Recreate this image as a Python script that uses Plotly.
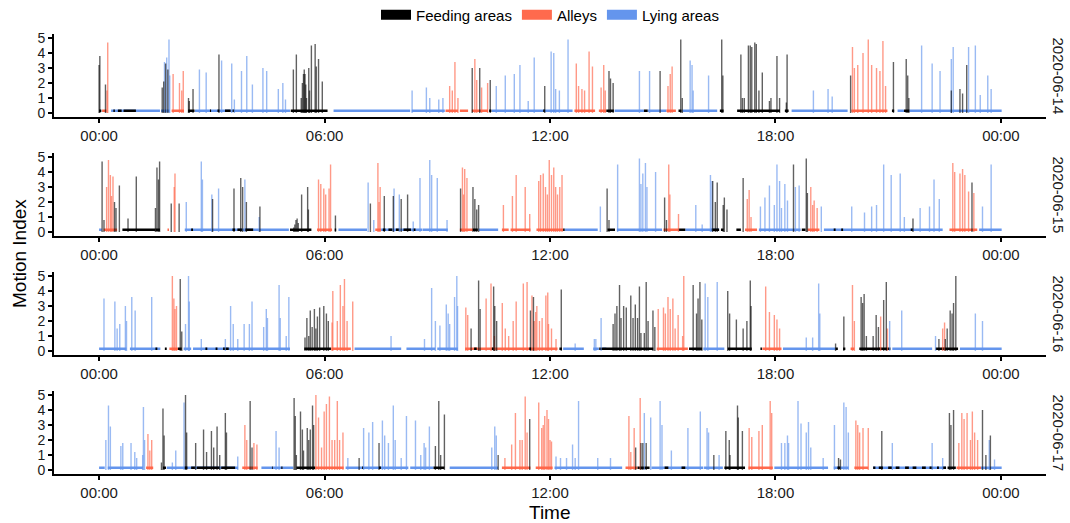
import plotly.graph_objects as go
from plotly.subplots import make_subplots

# ---------------- data (hours of day, motion index, location) ----------------
DAYS = ["2020-06-14", "2020-06-15", "2020-06-16", "2020-06-17"]
LOC_NAMES = {"F": "Feeding areas", "A": "Alleys", "L": "Lying areas"}
TICK_HOURS = [0, 6, 12, 18, 24]
TICK_LABELS = ["00:00", "06:00", "12:00", "18:00", "00:00"]
Y_TICKS = [0, 1, 2, 3, 4, 5]
BASE_LEVEL = 0.15  # low resting motion index

# location segments: (start hour, end hour, location)
seg_14 = [(0.0, 0.06, "F"), (0.08, 0.2, "A"), (0.32, 1.62, "L"), (0.38, 0.42, "F"), (0.5, 0.6, "F"),
          (0.65, 0.98, "F"), (1.65, 1.88, "L"), (1.93, 2.26, "A"), (2.37, 2.54, "F"), (2.55, 5.08, "L"),
          (2.95, 2.98, "F"), (3.15, 3.2, "F"), (3.35, 3.5, "F"), (3.55, 3.6, "F"), (5.1, 6.08, "F"),
          (6.24, 8.28, "L"), (8.32, 9.2, "L"), (9.22, 9.55, "A"), (9.6, 9.82, "A"), (9.92, 10.35, "A"),
          (10.38, 10.44, "F"), (10.45, 12.6, "L"), (11.82, 11.86, "F"), (12.65, 13.2, "A"),
          (13.3, 13.5, "A"), (13.5, 13.7, "F"), (13.72, 14.5, "L"), (14.5, 14.6, "F"), (14.6, 15.1, "L"),
          (15.1, 15.35, "A"), (15.42, 15.5, "F"), (15.52, 16.45, "L"), (16.52, 16.62, "F"),
          (16.98, 18.12, "F"), (18.25, 18.35, "F"), (18.43, 19.92, "L"), (20.02, 20.98, "A"),
          (21.1, 21.16, "F"), (21.25, 21.42, "L"), (21.42, 21.56, "F"), (21.56, 24.02, "L")]
spk_14 = [(0.0, 3.2, "F"), (0.02, 3.8, "F"), (0.17, 1.9, "F"), (0.21, 1.5, "A"), (0.23, 4.7, "A"),
          (1.68, 1.7, "F"), (1.72, 2.1, "F"), (1.74, 3.4, "L"), (1.77, 3.3, "F"), (1.8, 3.7, "L"),
          (1.83, 2.9, "F"), (1.86, 4.9, "L"), (1.88, 2.5, "L"), (1.97, 2.6, "A"), (2.14, 2.0, "A"),
          (2.2, 1.5, "A"), (2.24, 2.8, "A"), (2.38, 1.0, "F"), (2.4, 0.8, "F"), (2.5, 1.6, "F"),
          (2.67, 2.9, "L"), (2.85, 2.7, "L"), (3.19, 3.9, "F"), (3.26, 3.5, "L"), (3.53, 3.3, "L"),
          (3.6, 0.9, "L"), (3.79, 2.8, "L"), (3.93, 3.8, "L"), (4.08, 1.9, "L"), (4.36, 3.0, "L"),
          (4.46, 2.8, "L"), (4.77, 1.6, "L"), (4.89, 2.0, "L"), (4.96, 0.9, "L"), (5.17, 2.9, "F"),
          (5.25, 3.9, "F"), (5.38, 1.0, "F"), (5.41, 2.0, "F"), (5.44, 2.6, "F"), (5.46, 2.9, "F"),
          (5.48, 2.6, "F"), (5.5, 1.9, "F"), (5.52, 1.0, "F"), (5.58, 3.0, "F"), (5.6, 1.5, "F"),
          (5.65, 4.5, "F"), (5.75, 4.6, "F"), (5.78, 3.1, "F"), (5.84, 3.6, "F"), (5.94, 2.1, "F"),
          (8.33, 1.5, "L"), (8.71, 1.7, "L"), (8.8, 1.0, "L"), (9.04, 0.9, "L"), (9.15, 1.0, "L"),
          (9.33, 1.8, "A"), (9.4, 1.5, "A"), (9.47, 3.4, "A"), (9.55, 1.0, "A"), (9.93, 3.0, "F"),
          (10.0, 3.6, "A"), (10.05, 2.2, "A"), (10.13, 3.0, "F"), (10.18, 1.7, "A"), (10.34, 2.0, "A"),
          (10.41, 2.2, "F"), (10.57, 1.8, "L"), (10.81, 2.5, "L"), (11.05, 2.6, "L"), (11.2, 3.2, "L"),
          (11.42, 0.8, "L"), (11.58, 3.7, "L"), (11.86, 1.8, "F"), (12.03, 4.1, "L"), (12.1, 4.0, "L"),
          (12.15, 1.6, "L"), (12.25, 1.5, "L"), (12.48, 4.9, "L"), (12.7, 3.3, "A"), (12.76, 1.8, "A"),
          (12.85, 1.6, "A"), (12.92, 1.5, "A"), (13.04, 4.1, "A"), (13.13, 3.1, "A"), (13.36, 1.7, "A"),
          (13.43, 3.2, "A"), (13.47, 1.5, "A"), (13.57, 2.8, "F"), (13.61, 2.3, "F"), (13.68, 2.0, "F"),
          (14.38, 2.8, "L"), (14.65, 2.8, "L"), (14.93, 2.8, "F"), (15.14, 1.8, "A"), (15.2, 2.6, "A"),
          (15.25, 3.1, "A"), (15.48, 4.9, "F"), (15.52, 1.0, "F"), (15.73, 3.5, "L"), (15.78, 3.2, "L"),
          (15.81, 1.5, "L"), (16.22, 2.5, "L"), (16.57, 4.9, "F"), (16.6, 2.5, "F"), (17.08, 3.9, "F"),
          (17.12, 1.0, "F"), (17.17, 1.0, "F"), (17.28, 4.5, "F"), (17.33, 4.5, "F"), (17.37, 4.4, "F"),
          (17.45, 4.7, "F"), (17.49, 4.6, "F"), (17.56, 1.5, "F"), (17.65, 2.7, "F"), (17.84, 0.8, "F"),
          (17.88, 1.0, "F"), (18.04, 3.8, "F"), (18.11, 1.0, "F"), (18.29, 0.7, "F"), (18.31, 3.9, "F"),
          (19.01, 1.5, "L"), (19.4, 1.6, "L"), (19.51, 1.1, "L"), (20.0, 2.5, "F"), (20.05, 4.4, "A"),
          (20.1, 3.0, "A"), (20.19, 3.2, "A"), (20.33, 4.0, "A"), (20.47, 4.9, "A"), (20.56, 3.2, "A"),
          (20.69, 3.0, "A"), (20.78, 2.8, "A"), (20.86, 4.8, "A"), (20.93, 1.8, "A"), (21.14, 3.4, "F"),
          (21.48, 3.6, "F"), (21.52, 2.5, "F"), (21.55, 1.0, "F"), (21.89, 4.5, "L"), (22.17, 3.3, "L"),
          (22.38, 2.8, "L"), (22.68, 3.6, "L"), (22.73, 4.4, "L"), (22.68, 1.5, "F"), (22.91, 1.6, "F"),
          (22.98, 1.3, "F"), (23.09, 3.2, "F"), (23.14, 4.4, "L"), (23.32, 4.5, "L"), (23.45, 1.2, "L"),
          (23.65, 2.5, "L"), (23.74, 1.6, "L")]

seg_15 = [(0.0, 0.07, "L"), (0.12, 0.48, "A"), (0.62, 1.5, "F"), (1.5, 1.62, "F"), (1.82, 1.86, "A"),
          (2.28, 5.05, "L"), (2.45, 2.5, "F"), (3.55, 3.62, "F"), (3.68, 3.8, "F"), (3.88, 4.1, "F"),
          (5.08, 5.65, "F"), (5.8, 6.2, "A"), (6.27, 6.31, "F"), (6.37, 7.13, "L"), (7.35, 7.5, "A"),
          (7.5, 8.6, "L"), (7.55, 7.62, "F"), (7.7, 7.8, "F"), (7.9, 8.0, "F"), (8.1, 8.3, "F"),
          (8.35, 8.42, "F"), (8.61, 9.28, "L"), (9.6, 9.95, "A"), (9.95, 10.08, "F"), (10.1, 10.62, "L"),
          (10.72, 10.9, "A"), (10.95, 11.48, "A"), (11.64, 12.35, "A"), (12.35, 12.39, "F"),
          (12.39, 13.27, "L"), (13.53, 13.73, "F"), (13.78, 14.98, "L"), (15.02, 15.42, "A"),
          (15.42, 15.6, "F"), (15.6, 16.5, "L"), (16.3, 16.5, "F"), (16.55, 16.62, "F"),
          (16.96, 17.08, "F"), (17.19, 17.51, "A"), (17.56, 18.67, "L"), (18.7, 18.8, "F"),
          (18.85, 19.17, "A"), (19.29, 22.45, "L"), (19.55, 19.6, "F"), (19.75, 19.8, "F"),
          (21.6, 21.65, "F"), (22.63, 23.37, "A"), (23.42, 24.02, "L")]
spk_15 = [(0.08, 4.7, "F"), (0.13, 0.8, "F"), (0.2, 3.0, "A"), (0.25, 4.8, "A"), (0.3, 3.8, "A"),
          (0.33, 2.4, "A"), (0.37, 3.7, "A"), (0.41, 2.0, "F"), (0.45, 1.6, "F"), (0.54, 3.1, "F"),
          (0.77, 0.9, "F"), (0.99, 3.7, "F"), (1.5, 1.6, "F"), (1.54, 4.3, "F"), (1.58, 3.5, "F"),
          (1.61, 4.7, "F"), (1.92, 1.9, "F"), (2.0, 3.0, "A"), (2.02, 3.9, "A"), (2.13, 1.9, "F"),
          (2.32, 2.0, "L"), (2.72, 4.7, "L"), (2.75, 3.5, "L"), (3.0, 2.5, "L"), (3.02, 2.2, "F"),
          (3.18, 2.9, "L"), (3.59, 2.9, "F"), (3.77, 3.6, "F"), (3.82, 3.0, "F"), (3.88, 3.5, "L"),
          (3.92, 2.0, "F"), (4.26, 1.0, "L"), (4.28, 1.7, "F"), (5.18, 0.3, "F"), (5.21, 0.5, "F"),
          (5.24, 0.8, "F"), (5.27, 0.9, "F"), (5.3, 0.6, "F"), (5.39, 2.5, "F"), (5.55, 3.0, "F"),
          (5.57, 1.5, "F"), (5.84, 3.5, "A"), (5.9, 3.2, "A"), (5.98, 2.9, "A"), (6.03, 2.5, "A"),
          (6.12, 2.9, "A"), (6.16, 4.5, "A"), (6.29, 1.1, "F"), (7.16, 3.3, "L"), (7.22, 1.9, "F"),
          (7.31, 0.8, "L"), (7.42, 4.6, "A"), (7.45, 2.0, "A"), (7.48, 3.0, "A"), (7.59, 2.4, "F"),
          (7.83, 2.4, "F"), (7.85, 2.9, "L"), (7.99, 2.5, "L"), (8.04, 2.2, "F"), (8.21, 2.5, "F"),
          (8.36, 0.7, "L"), (8.54, 3.6, "L"), (8.8, 4.8, "L"), (8.85, 3.8, "L"), (9.0, 3.6, "L"),
          (9.26, 0.8, "L"), (9.62, 2.9, "F"), (9.67, 4.3, "A"), (9.7, 2.5, "A"), (9.73, 4.2, "A"),
          (9.79, 3.6, "A"), (9.95, 3.0, "F"), (10.0, 2.2, "F"), (10.05, 1.5, "F"), (10.1, 1.8, "F"),
          (10.76, 1.8, "A"), (11.0, 2.4, "A"), (11.1, 3.8, "A"), (11.34, 3.0, "A"), (11.46, 1.2, "A"),
          (11.7, 3.4, "A"), (11.75, 3.8, "A"), (11.82, 3.9, "A"), (11.88, 3.0, "A"), (11.93, 2.5, "A"),
          (11.98, 4.8, "A"), (12.04, 3.8, "A"), (12.1, 4.3, "A"), (12.15, 3.0, "A"), (12.2, 2.5, "A"),
          (12.26, 3.0, "A"), (12.32, 3.8, "A"), (13.34, 1.7, "L"), (13.52, 2.9, "F"), (13.57, 0.8, "F"),
          (13.8, 4.5, "L"), (14.38, 4.9, "L"), (14.42, 3.2, "L"), (14.47, 3.9, "L"), (14.54, 4.6, "L"),
          (14.58, 3.0, "L"), (14.81, 4.0, "L"), (15.05, 2.3, "F"), (15.1, 0.8, "F"), (15.16, 4.5, "A"),
          (15.19, 2.5, "A"), (15.42, 1.2, "A"), (15.88, 1.8, "L"), (16.05, 0.5, "L"), (16.27, 3.8, "L"),
          (16.31, 3.4, "L"), (16.33, 3.4, "F"), (16.4, 2.0, "F"), (16.45, 3.3, "F"), (16.61, 1.8, "F"),
          (16.64, 2.3, "F"), (16.71, 1.5, "F"), (17.14, 3.6, "F"), (17.25, 2.2, "A"), (17.3, 2.8, "A"),
          (17.35, 1.0, "A"), (17.6, 1.7, "L"), (17.72, 2.3, "L"), (17.84, 3.1, "L"), (17.97, 1.8, "L"),
          (18.04, 4.5, "L"), (18.11, 3.4, "L"), (18.16, 1.6, "L"), (18.25, 3.2, "L"), (18.32, 2.1, "L"),
          (18.48, 4.5, "F"), (18.53, 3.0, "L"), (18.63, 3.1, "L"), (18.82, 4.9, "F"), (18.85, 2.6, "F"),
          (18.94, 3.0, "A"), (18.99, 1.8, "A"), (19.03, 2.1, "A"), (19.11, 1.6, "A"), (19.22, 1.7, "L"),
          (20.03, 1.7, "L"), (20.37, 1.3, "L"), (20.56, 1.7, "L"), (20.69, 1.8, "L"), (20.88, 4.5, "L"),
          (21.08, 3.8, "L"), (21.32, 3.9, "L"), (21.43, 1.0, "L"), (21.66, 0.9, "F"), (21.85, 1.6, "L"),
          (22.1, 1.7, "L"), (22.22, 3.5, "L"), (22.36, 2.2, "L"), (22.72, 4.6, "A"), (22.77, 4.0, "A"),
          (22.91, 3.9, "A"), (22.98, 4.2, "A"), (23.04, 3.8, "A"), (23.14, 2.7, "A"), (23.23, 3.3, "F"),
          (23.28, 2.6, "A"), (23.51, 1.7, "L"), (23.74, 4.5, "L")]

seg_16 = [(0.0, 0.73, "L"), (0.82, 1.63, "L"), (1.5, 1.55, "F"), (1.75, 1.8, "F"), (1.87, 2.1, "A"),
          (2.1, 2.2, "F"), (2.25, 2.45, "L"), (2.5, 5.08, "L"), (2.83, 2.88, "F"), (3.1, 3.15, "F"),
          (3.3, 3.45, "F"), (5.46, 6.17, "F"), (6.18, 6.7, "A"), (6.8, 8.04, "L"), (8.18, 8.95, "L"),
          (9.0, 9.55, "L"), (9.74, 12.2, "A"), (9.98, 10.05, "F"), (10.45, 10.5, "F"),
          (11.45, 11.5, "F"), (12.25, 12.32, "F"), (12.35, 12.9, "L"), (13.15, 13.3, "L"),
          (13.31, 14.75, "F"), (13.4, 13.5, "L"), (14.84, 15.67, "A"), (15.7, 16.05, "F"),
          (16.08, 16.64, "L"), (16.73, 17.37, "F"), (17.6, 17.64, "F"), (17.65, 18.16, "A"),
          (18.2, 19.6, "L"), (19.6, 19.66, "F"), (19.8, 19.86, "F"), (20.0, 20.1, "A"),
          (20.23, 21.06, "F"), (20.75, 20.82, "A"), (21.11, 22.17, "L"), (22.26, 22.86, "F"),
          (22.42, 22.5, "A"), (22.91, 24.02, "L")]
spk_16 = [(0.13, 3.5, "L"), (0.42, 3.3, "L"), (0.48, 1.5, "L"), (0.55, 1.8, "L"), (0.7, 3.0, "L"),
          (0.73, 2.0, "L"), (0.87, 3.6, "L"), (0.96, 2.7, "L"), (1.4, 3.6, "L"), (1.95, 5.0, "A"),
          (1.99, 3.5, "A"), (2.02, 2.8, "A"), (2.06, 3.0, "A"), (2.16, 4.8, "F"), (2.2, 1.3, "F"),
          (2.3, 1.8, "L"), (2.38, 5.0, "L"), (2.4, 3.3, "L"), (2.72, 0.8, "L"), (3.36, 0.8, "L"),
          (3.5, 3.0, "L"), (3.57, 1.8, "L"), (3.69, 0.8, "L"), (3.86, 1.8, "L"), (4.0, 1.8, "L"),
          (4.07, 3.3, "L"), (4.38, 1.6, "L"), (4.45, 2.8, "L"), (4.48, 2.2, "L"), (4.79, 4.4, "L"),
          (4.82, 2.2, "L"), (4.98, 1.0, "L"), (5.05, 3.6, "L"), (5.48, 0.9, "F"), (5.53, 2.2, "F"),
          (5.58, 1.0, "F"), (5.62, 2.7, "F"), (5.67, 1.6, "F"), (5.73, 2.8, "F"), (5.77, 1.5, "F"),
          (5.81, 2.3, "F"), (5.87, 2.9, "F"), (5.98, 3.0, "F"), (6.05, 2.5, "F"), (6.1, 2.0, "F"),
          (6.2, 1.9, "A"), (6.22, 4.0, "A"), (6.34, 2.0, "A"), (6.42, 4.4, "A"), (6.49, 3.0, "A"),
          (6.53, 4.8, "A"), (6.6, 2.0, "A"), (6.75, 3.3, "A"), (7.77, 1.0, "L"), (8.66, 0.8, "L"),
          (8.85, 4.2, "L"), (8.95, 2.0, "L"), (9.07, 1.7, "L"), (9.24, 3.1, "L"), (9.29, 2.5, "L"),
          (9.33, 1.8, "L"), (9.46, 3.6, "L"), (9.52, 5.0, "L"), (9.54, 3.0, "L"), (9.76, 2.9, "A"),
          (9.81, 2.4, "A"), (9.9, 1.5, "F"), (10.1, 4.7, "F"), (10.14, 2.8, "F"), (10.3, 3.5, "A"),
          (10.43, 4.5, "A"), (10.5, 4.3, "F"), (10.52, 1.0, "A"), (10.53, 3.0, "F"), (10.58, 2.0, "F"),
          (10.73, 3.2, "A"), (10.81, 1.5, "A"), (10.9, 1.0, "A"), (11.02, 2.0, "A"), (11.1, 3.3, "A"),
          (11.29, 4.5, "A"), (11.39, 4.6, "A"), (11.48, 2.7, "F"), (11.52, 3.7, "A"), (11.56, 3.6, "F"),
          (11.58, 2.0, "A"), (11.62, 2.6, "A"), (11.65, 3.0, "A"), (11.72, 2.0, "A"), (11.79, 2.2, "A"),
          (11.89, 3.7, "A"), (11.94, 3.9, "A"), (11.96, 1.8, "A"), (12.04, 1.5, "A"), (12.16, 0.8, "A"),
          (12.3, 4.1, "F"), (12.67, 0.5, "L"), (13.18, 0.8, "L"), (13.22, 0.8, "L"), (13.36, 2.2, "L"),
          (13.68, 1.8, "F"), (13.73, 2.5, "F"), (13.78, 3.0, "F"), (13.85, 4.4, "F"), (13.89, 2.2, "F"),
          (13.96, 3.0, "F"), (14.03, 2.9, "F"), (14.15, 3.7, "F"), (14.21, 2.2, "F"), (14.27, 3.1, "F"),
          (14.33, 2.2, "F"), (14.38, 4.3, "F"), (14.42, 1.2, "F"), (14.51, 1.2, "F"), (14.56, 4.6, "F"),
          (14.61, 2.0, "F"), (14.74, 2.7, "F"), (14.79, 1.6, "F"), (14.88, 2.8, "A"), (15.02, 2.9, "A"),
          (15.07, 2.5, "A"), (15.14, 3.6, "A"), (15.2, 2.8, "A"), (15.27, 3.5, "A"), (15.33, 1.5, "A"),
          (15.41, 2.4, "A"), (15.53, 1.0, "A"), (15.56, 5.0, "A"), (15.81, 4.4, "F"), (15.9, 2.5, "F"),
          (15.94, 3.5, "F"), (15.99, 4.6, "F"), (16.04, 2.1, "F"), (16.13, 4.5, "L"), (16.2, 3.6, "L"),
          (16.45, 4.6, "L"), (16.73, 4.0, "F"), (16.78, 2.5, "F"), (16.96, 2.1, "F"), (17.14, 1.5, "F"),
          (17.24, 2.0, "F"), (17.33, 4.7, "F"), (17.35, 3.0, "F"), (17.74, 4.3, "A"), (17.84, 2.6, "A"),
          (17.97, 2.4, "A"), (18.04, 2.1, "A"), (18.11, 1.5, "A"), (18.82, 0.9, "L"), (18.99, 0.9, "L"),
          (19.15, 4.5, "L"), (19.18, 2.5, "L"), (19.6, 0.5, "F"), (19.82, 2.3, "F"), (20.05, 4.4, "A"),
          (20.1, 2.0, "A"), (20.28, 3.6, "F"), (20.32, 3.2, "F"), (20.36, 3.8, "F"), (20.42, 1.0, "F"),
          (20.6, 1.0, "F"), (20.68, 2.4, "F"), (20.74, 1.6, "F"), (20.8, 2.3, "A"), (20.88, 3.4, "F"),
          (20.95, 4.6, "F"), (20.98, 1.5, "A"), (21.04, 2.0, "L"), (21.36, 2.7, "L"), (22.26, 1.0, "L"),
          (22.35, 0.8, "F"), (22.45, 1.5, "A"), (22.5, 1.9, "A"), (22.52, 0.8, "F"), (22.57, 1.5, "F"),
          (22.65, 2.7, "F"), (22.7, 2.5, "F"), (22.74, 3.2, "F"), (22.8, 5.0, "F"), (23.32, 2.5, "L"),
          (23.51, 2.0, "L")]

seg_17 = [(0.0, 0.15, "L"), (0.23, 1.17, "L"), (1.25, 1.44, "A"), (1.7, 1.78, "F"), (1.8, 3.7, "L"),
          (2.28, 2.35, "F"), (2.45, 2.55, "F"), (2.6, 3.2, "F"), (3.25, 3.62, "F"), (3.81, 4.22, "A"),
          (4.32, 5.17, "L"), (4.6, 4.62, "F"), (4.85, 4.88, "F"), (5.25, 5.75, "F"), (5.75, 6.51, "A"),
          (6.56, 8.23, "L"), (7.0, 7.03, "F"), (7.45, 7.5, "F"), (8.28, 8.9, "L"), (8.9, 9.19, "F"),
          (9.33, 10.43, "L"), (10.43, 10.62, "L"), (10.72, 11.48, "A"), (11.62, 12.07, "A"),
          (12.12, 13.92, "L"), (14.01, 14.33, "A"), (14.33, 14.65, "F"), (14.7, 16.08, "L"),
          (15.05, 15.15, "F"), (15.5, 15.6, "F"), (16.1, 16.6, "L"), (16.64, 17.19, "F"),
          (17.28, 17.93, "A"), (17.97, 19.4, "L"), (19.55, 19.95, "L"), (19.65, 19.72, "F"),
          (20.1, 20.47, "A"), (20.6, 22.54, "L"), (20.6, 20.66, "F"), (20.75, 20.86, "F"),
          (21.0, 21.1, "F"), (21.2, 21.3, "F"), (21.45, 21.55, "F"), (21.65, 21.75, "F"),
          (21.9, 22.0, "F"), (22.1, 22.18, "F"), (22.3, 22.35, "F"), (22.45, 22.54, "F"),
          (22.58, 22.8, "F"), (22.82, 23.47, "A"), (23.47, 24.02, "L")]
spk_17 = [(0.18, 2.0, "L"), (0.25, 4.3, "L"), (0.3, 2.9, "L"), (0.58, 1.6, "L"), (0.63, 1.8, "L"),
          (0.85, 1.8, "L"), (0.95, 1.2, "L"), (1.0, 0.8, "L"), (1.16, 1.0, "L"), (1.18, 4.2, "L"),
          (1.21, 2.0, "L"), (1.3, 2.4, "A"), (1.35, 1.3, "A"), (1.4, 2.0, "A"), (1.66, 0.5, "F"),
          (1.7, 4.1, "F"), (1.73, 2.3, "F"), (1.95, 0.5, "L"), (2.04, 1.3, "L"), (2.26, 4.5, "L"),
          (2.3, 5.0, "F"), (2.33, 2.5, "F"), (2.57, 1.8, "F"), (2.78, 2.7, "F"), (2.86, 1.2, "F"),
          (2.99, 2.6, "F"), (3.05, 1.5, "F"), (3.14, 2.9, "F"), (3.21, 1.0, "F"), (3.36, 3.8, "F"),
          (3.39, 2.5, "F"), (3.69, 0.9, "L"), (3.88, 3.0, "A"), (3.93, 2.0, "A"), (4.02, 4.6, "F"),
          (4.07, 1.5, "F"), (4.12, 1.8, "A"), (4.2, 1.7, "A"), (4.71, 2.6, "L"), (4.79, 1.5, "L"),
          (5.19, 4.8, "F"), (5.22, 3.6, "F"), (5.25, 1.0, "F"), (5.36, 3.9, "F"), (5.41, 2.7, "F"),
          (5.44, 1.3, "F"), (5.54, 2.8, "F"), (5.58, 2.0, "F"), (5.62, 2.7, "F"), (5.68, 4.3, "F"),
          (5.71, 3.0, "F"), (5.77, 5.0, "A"), (5.84, 3.5, "A"), (5.92, 1.5, "A"), (5.99, 3.9, "A"),
          (6.05, 4.4, "A"), (6.13, 4.9, "A"), (6.2, 2.0, "A"), (6.27, 2.0, "A"), (6.34, 4.6, "A"),
          (6.4, 2.0, "A"), (6.49, 2.5, "A"), (6.62, 0.8, "L"), (6.92, 0.8, "F"), (7.04, 2.8, "L"),
          (7.18, 2.5, "L"), (7.28, 3.2, "L"), (7.45, 1.8, "F"), (7.54, 3.3, "L"), (7.6, 2.3, "L"),
          (7.7, 1.8, "L"), (7.83, 4.3, "L"), (7.88, 2.0, "L"), (8.04, 0.8, "L"), (8.18, 3.6, "L"),
          (8.42, 3.3, "L"), (8.56, 1.0, "L"), (8.65, 1.8, "L"), (8.69, 1.5, "L"), (8.79, 2.9, "L"),
          (8.95, 1.6, "F"), (9.04, 4.6, "F"), (9.09, 1.0, "F"), (9.19, 3.7, "F"), (10.45, 1.5, "L"),
          (10.53, 2.9, "L"), (10.57, 2.3, "L"), (10.62, 1.0, "F"), (10.8, 0.8, "A"), (10.98, 1.7, "A"),
          (11.08, 3.8, "A"), (11.2, 2.0, "A"), (11.26, 2.0, "A"), (11.34, 4.9, "A"), (11.39, 2.5, "A"),
          (11.46, 3.4, "F"), (11.7, 4.5, "A"), (11.78, 2.8, "A"), (11.82, 3.0, "A"), (11.86, 3.6, "A"),
          (11.92, 4.0, "A"), (11.96, 3.4, "A"), (12.0, 2.0, "A"), (12.04, 1.9, "A"), (12.16, 0.9, "L"),
          (12.28, 0.8, "L"), (12.44, 0.8, "L"), (12.6, 1.7, "L"), (12.67, 0.8, "L"), (12.76, 4.6, "L"),
          (13.27, 0.8, "L"), (13.61, 0.8, "L"), (14.1, 3.6, "A"), (14.15, 1.2, "A"), (14.24, 2.8, "A"),
          (14.28, 1.5, "F"), (14.4, 4.8, "A"), (14.42, 1.8, "F"), (14.47, 1.8, "F"), (14.51, 3.8, "L"),
          (14.56, 1.8, "F"), (14.68, 3.5, "L"), (14.93, 4.6, "L"), (14.98, 3.0, "L"), (15.23, 1.3, "L"),
          (15.67, 2.8, "L"), (16.0, 3.9, "L"), (16.18, 2.8, "L"), (16.22, 2.5, "L"), (16.36, 1.0, "F"),
          (16.5, 1.0, "L"), (16.68, 2.6, "F"), (16.77, 2.0, "F"), (16.79, 1.0, "F"), (16.99, 4.3, "F"),
          (17.01, 3.5, "F"), (17.12, 2.6, "F"), (17.3, 2.8, "A"), (17.37, 2.2, "A"), (17.56, 2.6, "A"),
          (17.65, 3.0, "A"), (17.86, 4.6, "A"), (17.9, 3.8, "A"), (18.16, 1.8, "L"), (18.25, 1.8, "L"),
          (18.32, 2.3, "L"), (18.35, 1.8, "L"), (18.6, 4.6, "L"), (18.68, 3.1, "L"), (18.82, 2.5, "L"),
          (18.88, 3.2, "L"), (18.94, 1.5, "L"), (19.27, 0.8, "L"), (19.57, 3.0, "L"), (19.68, 0.8, "F"),
          (19.73, 0.7, "F"), (19.82, 4.5, "L"), (19.88, 4.2, "L"), (19.94, 2.5, "L"), (20.14, 3.3, "A"),
          (20.19, 3.0, "A"), (20.24, 2.5, "A"), (20.33, 2.8, "A"), (20.47, 2.8, "A"), (20.83, 2.6, "F"),
          (21.11, 1.8, "L"), (22.17, 1.8, "L"), (22.45, 0.8, "L"), (22.63, 3.8, "F"), (22.67, 3.0, "F"),
          (22.74, 4.0, "F"), (22.88, 1.8, "A"), (22.96, 3.8, "A"), (23.02, 3.4, "A"), (23.1, 3.8, "A"),
          (23.19, 2.0, "A"), (23.24, 3.9, "A"), (23.3, 2.5, "A"), (23.38, 2.0, "A"), (23.51, 4.0, "F"),
          (23.6, 1.0, "F"), (23.69, 2.0, "L"), (23.72, 2.3, "F"), (23.83, 0.7, "L")]

SEGMENTS = [seg_14, seg_15, seg_16, seg_17]
SPIKES = [spk_14, spk_15, spk_16, spk_17]

# ---------------- styling ----------------
SOLID = {"F": "#000000", "A": "#FF6A4D", "L": "#6495ED"}
SPIKE = {"F": "rgba(0,0,0,0.62)", "A": "rgba(255,99,71,0.65)", "L": "rgba(100,149,237,0.65)"}
DRAW_ORDER = ["L", "A", "F"]
FONT = "Liberation Sans, Arial, Helvetica, sans-serif"

W, H = 1070, 523
M_L, M_R, M_T, M_B = 54, 24, 34, 49
PLOT_W = W - M_L - M_R
PLOT_H = H - M_T - M_B
PANEL_H = 82.5
PANEL_STEP = 119

fig = make_subplots(rows=4, cols=1)

# legend entries
for loc in ["F", "A", "L"]:
    fig.add_trace(go.Scatter(x=[None], y=[None], mode="lines", name=LOC_NAMES[loc],
                             line=dict(color=SOLID[loc], width=12), legendgroup=loc,
                             showlegend=True, hoverinfo="skip"), row=1, col=1)

for r, (segs, spks) in enumerate(zip(SEGMENTS, SPIKES), start=1):
    for loc in DRAW_ORDER:
        xs, ys = [], []
        for s, e, l in segs:
            if l == loc:
                xs += [s, e, None]
                ys += [BASE_LEVEL, BASE_LEVEL, None]
        if xs:
            fig.add_trace(go.Scatter(x=xs, y=ys, mode="lines", line=dict(color=SOLID[loc], width=2.6),
                                     legendgroup=loc, showlegend=False, hoverinfo="skip"), row=r, col=1)
    for loc in DRAW_ORDER:
        xs, ys = [], []
        for t, h, l in spks:
            if l == loc:
                xs += [t, t, None]
                ys += [0, h, None]
        if xs:
            fig.add_trace(go.Scatter(x=xs, y=ys, mode="lines", line=dict(color=SPIKE[loc], width=1.4),
                                     legendgroup=loc, showlegend=False, hoverinfo="skip"), row=r, col=1)

axis_common = dict(showline=True, linecolor="black", linewidth=2, ticks="outside", ticklen=4,
                   tickwidth=1.5, tickcolor="black", showgrid=False, zeroline=False)

for r in range(1, 5):
    top = (r - 1) * PANEL_STEP + 0.25
    bottom = top + PANEL_H
    dom = [max(0, 1 - bottom / PLOT_H), min(1, 1 - top / PLOT_H)]
    fig.update_xaxes(range=[-1.2, 25.2], tickvals=TICK_HOURS, ticktext=TICK_LABELS,
                     tickfont=dict(family=FONT, size=15, color="#1a1a1a"),
                     row=r, col=1, **axis_common)
    fig.update_yaxes(range=[-0.25, 5.25], tickvals=Y_TICKS, domain=dom,
                     tickfont=dict(family=FONT, size=14, color="#1a1a1a"),
                     row=r, col=1, **axis_common)
    fig.add_annotation(text=DAYS[r - 1], xref="paper", yref="paper",
                       x=1 + (1058 - (W - M_R)) / PLOT_W, y=(dom[0] + dom[1]) / 2,
                       textangle=90, showarrow=False, xanchor="center", yanchor="middle",
                       font=dict(family=FONT, size=15, color="#1a1a1a"))

fig.add_annotation(text="Motion Index", xref="paper", yref="paper",
                   x=(19 - M_L) / PLOT_W, y=0.5, textangle=-90, showarrow=False,
                   xanchor="center", yanchor="middle", font=dict(family=FONT, size=19, color="black"))
fig.add_annotation(text="Time", xref="paper", yref="paper",
                   x=0.5, y=-(512 - (H - M_B)) / PLOT_H, showarrow=False,
                   xanchor="center", yanchor="middle", font=dict(family=FONT, size=19, color="black"))

fig.update_layout(
    width=W, height=H,
    margin=dict(l=M_L, r=M_R, t=M_T, b=M_B, autoexpand=False),
    plot_bgcolor="white", paper_bgcolor="white",
    showlegend=True,
    legend=dict(orientation="h", x=0.5, xanchor="center", y=1 + (M_T - 15) / PLOT_H, yanchor="middle",
                font=dict(family=FONT, size=15, color="black"), itemwidth=30,
                bgcolor="rgba(0,0,0,0)"),
    font=dict(family=FONT),
)

fig.write_html("out.html", config={"displayModeBar": False},
               post_script="document.body.style.margin='0';document.body.style.overflow='hidden';")
